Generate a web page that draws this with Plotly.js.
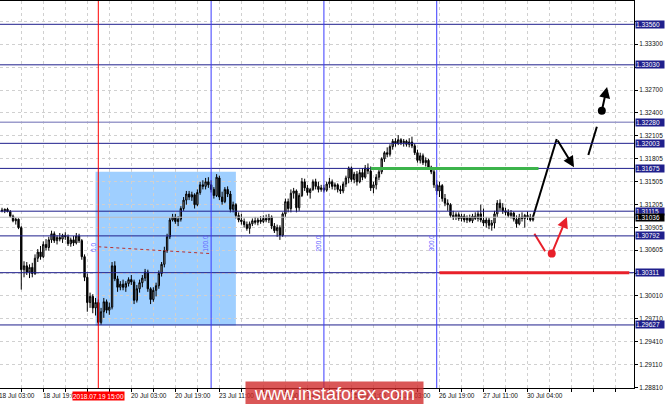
<!DOCTYPE html>
<html><head><meta charset="utf-8">
<script src="https://cdn.plot.ly/plotly-3.0.1.min.js"></script>
<style>html,body{margin:0;padding:0;background:#fff;}#chart{width:665px;height:404px;}</style>
</head><body><div id="chart"></div>
<script>
// ---- candle data (bar 1 .. 194, H1, 18 Jul 04:00 .. 30 Jul 05:00) ----
const openP = [1.3113,1.3112,1.3114,1.3111,1.3105,1.3099,1.3101,1.3090,1.3035,1.3040,1.3032,1.3038,1.3030,1.3050,1.3058,1.3052,1.3068,1.3064,1.3074,1.3082,
1.3073,1.3077,1.3075,1.3080,1.3078,1.3069,1.3074,1.3070,1.3079,1.3073,1.3052,1.3025,1.2992,1.3000,1.2985,1.2992,1.2966,1.2980,1.2993,1.2982,
1.2986,1.3040,1.3023,1.3012,1.3016,1.3012,1.3017,1.3022,1.3019,1.2995,1.3010,1.3018,1.3024,1.3032,1.3010,1.2996,1.3008,1.3014,1.3030,1.3042,
1.3060,1.3078,1.3100,1.3104,1.3098,1.3101,1.3115,1.3126,1.3134,1.3130,1.3133,1.3120,1.3136,1.3146,1.3144,1.3150,1.3146,1.3140,1.3132,1.3155,
1.3130,1.3124,1.3140,1.3134,1.3114,1.3120,1.3106,1.3100,1.3098,1.3094,1.3089,1.3095,1.3099,1.3097,1.3100,1.3098,1.3102,1.3100,1.3104,1.3092,
1.3086,1.3090,1.3080,1.3108,1.3124,1.3115,1.3135,1.3138,1.3116,1.3132,1.3150,1.3142,1.3136,1.3140,1.3150,1.3144,1.3140,1.3142,1.3139,1.3147,
1.3150,1.3144,1.3146,1.3140,1.3138,1.3147,1.3155,1.3168,1.3153,1.3160,1.3150,1.3162,1.3156,1.3168,1.3164,1.3142,1.3146,1.3156,1.3163,1.3180,
1.3188,1.3186,1.3196,1.3203,1.3200,1.3205,1.3201,1.3203,1.3199,1.3202,1.3197,1.3188,1.3178,1.3184,1.3175,1.3178,1.3169,1.3163,1.3146,1.3138,
1.3145,1.3128,1.3122,1.3120,1.3106,1.3104,1.3107,1.3102,1.3105,1.3100,1.3103,1.3099,1.3105,1.3102,1.3108,1.3100,1.3096,1.3100,1.3093,1.3096,
1.3108,1.3122,1.3116,1.3112,1.3110,1.3106,1.3109,1.3101,1.3095,1.3104,1.3102,1.3106,1.3104,1.3100];
const highP = [1.3116,1.3115,1.3116,1.3113,1.3107,1.3103,1.3102,1.3092,1.3046,1.3045,1.3042,1.3044,1.3055,1.3062,1.3066,1.3072,1.3075,1.3078,1.3086,1.3085,
1.3080,1.3083,1.3082,1.3084,1.3081,1.3077,1.3079,1.3083,1.3082,1.3075,1.3055,1.3030,1.3005,1.3003,1.2998,1.2996,1.2985,1.2998,1.2996,1.2992,
1.3045,1.3046,1.3027,1.3020,1.3022,1.3020,1.3025,1.3028,1.3022,1.3015,1.3022,1.3028,1.3036,1.3035,1.3012,1.3012,1.3018,1.3034,1.3045,1.3065,
1.3082,1.3103,1.3108,1.3108,1.3105,1.3118,1.3130,1.3138,1.3138,1.3137,1.3135,1.3140,1.3150,1.3152,1.3155,1.3156,1.3152,1.3143,1.3160,1.3158,
1.3137,1.3143,1.3144,1.3138,1.3124,1.3122,1.3110,1.3108,1.3102,1.3098,1.3098,1.3102,1.3104,1.3103,1.3105,1.3106,1.3107,1.3108,1.3106,1.3096,
1.3094,1.3093,1.3110,1.3128,1.3128,1.3140,1.3142,1.3140,1.3135,1.3155,1.3154,1.3146,1.3142,1.3153,1.3154,1.3150,1.3146,1.3146,1.3150,1.3155,
1.3153,1.3149,1.3148,1.3145,1.3150,1.3158,1.3170,1.3170,1.3163,1.3164,1.3166,1.3168,1.3172,1.3174,1.3170,1.3150,1.3160,1.3166,1.3182,1.3190,
1.3195,1.3199,1.3206,1.3207,1.3211,1.3207,1.3206,1.3205,1.3207,1.3209,1.3200,1.3192,1.3188,1.3187,1.3182,1.3180,1.3171,1.3166,1.3152,1.3150,
1.3147,1.3134,1.3127,1.3122,1.3112,1.3110,1.3110,1.3108,1.3108,1.3106,1.3107,1.3108,1.3110,1.3112,1.3120,1.3115,1.3104,1.3103,1.3100,1.3112,
1.3126,1.3127,1.3122,1.3116,1.3114,1.3113,1.3111,1.3106,1.3108,1.3110,1.3108,1.3111,1.3108,1.3106];
const lowP = [1.3110,1.3109,1.3110,1.3103,1.3097,1.3094,1.3088,1.3009,1.3025,1.3028,1.3024,1.3025,1.3028,1.3045,1.3048,1.3050,1.3060,1.3060,1.3070,1.3070,
1.3068,1.3072,1.3070,1.3074,1.3066,1.3065,1.3066,1.3068,1.3070,1.3048,1.3020,1.2980,1.2985,1.2978,1.2975,1.2962,1.2963,1.2972,1.2978,1.2976,
1.2983,1.3020,1.3006,1.3008,1.3008,1.3006,1.3013,1.3015,1.2990,1.2992,1.3005,1.3012,1.3020,1.3006,1.2990,1.2993,1.3000,1.3010,1.3026,1.3038,
1.3057,1.3075,1.3098,1.3095,1.3092,1.3098,1.3112,1.3120,1.3126,1.3125,1.3115,1.3118,1.3133,1.3140,1.3140,1.3142,1.3136,1.3128,1.3130,1.3126,
1.3120,1.3122,1.3130,1.3110,1.3110,1.3102,1.3097,1.3094,1.3090,1.3086,1.3082,1.3092,1.3094,1.3093,1.3095,1.3096,1.3097,1.3096,1.3088,1.3083,
1.3078,1.3074,1.3078,1.3104,1.3110,1.3110,1.3128,1.3110,1.3112,1.3130,1.3138,1.3132,1.3128,1.3138,1.3140,1.3136,1.3137,1.3136,1.3137,1.3142,
1.3140,1.3139,1.3136,1.3134,1.3135,1.3143,1.3148,1.3150,1.3148,1.3145,1.3148,1.3152,1.3154,1.3160,1.3138,1.3135,1.3140,1.3152,1.3160,1.3176,
1.3182,1.3183,1.3192,1.3196,1.3198,1.3198,1.3196,1.3196,1.3195,1.3194,1.3185,1.3175,1.3174,1.3172,1.3170,1.3166,1.3160,1.3142,1.3133,1.3130,
1.3124,1.3118,1.3112,1.3103,1.3100,1.3100,1.3099,1.3098,1.3097,1.3096,1.3097,1.3096,1.3100,1.3098,1.3097,1.3092,1.3090,1.3088,1.3086,1.3089,
1.3104,1.3112,1.3108,1.3106,1.3103,1.3102,1.3098,1.3090,1.3093,1.3098,1.3090,1.3100,1.3098,1.3098];
const closeP = [1.3112,1.3114,1.3111,1.3105,1.3099,1.3101,1.3090,1.3035,1.3040,1.3032,1.3038,1.3030,1.3050,1.3058,1.3052,1.3068,1.3064,1.3074,1.3082,1.3073,
1.3077,1.3075,1.3080,1.3078,1.3069,1.3074,1.3070,1.3079,1.3073,1.3052,1.3025,1.2992,1.3000,1.2985,1.2992,1.2966,1.2980,1.2993,1.2982,1.2986,
1.3040,1.3023,1.3012,1.3016,1.3012,1.3017,1.3022,1.3019,1.2995,1.3010,1.3018,1.3024,1.3032,1.3010,1.2996,1.3008,1.3014,1.3030,1.3042,1.3060,
1.3078,1.3100,1.3104,1.3098,1.3101,1.3115,1.3126,1.3134,1.3130,1.3133,1.3120,1.3136,1.3146,1.3144,1.3150,1.3146,1.3140,1.3132,1.3156,1.3130,
1.3124,1.3140,1.3134,1.3114,1.3120,1.3106,1.3100,1.3098,1.3094,1.3089,1.3095,1.3099,1.3097,1.3100,1.3098,1.3102,1.3100,1.3104,1.3092,1.3086,
1.3090,1.3080,1.3108,1.3124,1.3115,1.3135,1.3138,1.3116,1.3132,1.3150,1.3142,1.3136,1.3140,1.3150,1.3144,1.3140,1.3142,1.3139,1.3147,1.3150,
1.3144,1.3146,1.3140,1.3138,1.3147,1.3155,1.3168,1.3153,1.3160,1.3150,1.3162,1.3156,1.3168,1.3164,1.3142,1.3146,1.3156,1.3163,1.3180,1.3188,
1.3186,1.3196,1.3203,1.3200,1.3205,1.3201,1.3203,1.3199,1.3202,1.3197,1.3188,1.3178,1.3184,1.3175,1.3178,1.3169,1.3163,1.3146,1.3138,1.3145,
1.3128,1.3122,1.3120,1.3106,1.3104,1.3107,1.3102,1.3105,1.3100,1.3103,1.3099,1.3105,1.3102,1.3108,1.3100,1.3096,1.3100,1.3093,1.3096,1.3108,
1.3122,1.3116,1.3112,1.3110,1.3106,1.3109,1.3101,1.3095,1.3104,1.3102,1.3106,1.3104,1.3100,1.3104];

// ---- axis ticks ----
const priceTicks = [1.28810,1.29110,1.29410,1.29710,1.30010,1.30305,1.30605,1.30905,1.31205,1.31505,1.31805,1.32105,1.32400,1.32700,1.33000,1.33300,1.33600];
const priceTickText = ['1.28810','1.29110','1.29410','1.29710','1.30010','','1.30605','1.30905','1.31205','1.31505','1.31805','1.32105','1.32400','1.32700','','1.33300',''];
const timeLabelBars = [0,16,32,48,64,80,96,112,128,144,160,176,192];
const timeLabels = ['18 Jul 03:00','18 Jul 19:00','19 Jul 11:00','20 Jul 03:00','20 Jul 19:00','23 Jul 11:00','24 Jul 03:00','24 Jul 19:00','25 Jul 11:00','26 Jul 03:00','26 Jul 19:00','27 Jul 11:00','30 Jul 04:00'];
const gridStepBars = 8, lastGridBar = 224;

// ---- drawn objects ----
const navyLevels = [1.33560,1.33030,1.32003,1.31675,1.31115,1.30792,1.30311,1.29627];
const lightLevel = 1.32280;
const bidPrice = 1.31036;
const labelLevels = [1.33560,1.33030,1.32280,1.32003,1.31675,1.31115,1.30792,1.30311,1.29627];
const markedBar = 36, markedLabel = '2018.07.19 15:00';
const fiboBars = [36,77,118,159];
const fiboLabels = ['0.0','100.0','200.0','300.0'];
const rectBars = [35,86], rectPrices = [1.2962,1.3163];
const trendBars = [36,77], trendPrices = [1.3065,1.3056];
const greenBars = [135,196], greenPrice = 1.31675;
const redBars = [160,229], redPrice = 1.30311;
const blackPathBars = [194,202.6], blackPathPrices = [1.3104,1.3206];
const blackArrow1 = {from:[202.6,1.3206], to:[208.9,1.3169]};
const blackSegBars = [214.1,217.2], blackSegPrices = [1.3185,1.3222];
const blackDot = [219,1.3243];
const blackArrow2 = {from:[219,1.3243], to:[220.9,1.3274]};
const redPathBars = [194.5,198.4], redPathPrices = [1.3082,1.3059];
const redDot = [200.8,1.3056];
const redArrow = {from:[200.8,1.3056], to:[206.3,1.3104]};
const watermark = 'www.instaforex.com';

// ---- build ----
const xRange = [0.27, 230.7];
const plotWidthPx = 634;
const pxPerBar = plotWidthPx / (xRange[1] - xRange[0]);
const bars = openP.map((_, i) => i + 1);
const gridBars = [];
for (let b = 0; b <= lastGridBar; b += gridStepBars) gridBars.push(b);

const NAVY = '#1f1f8c';
const FONT = 'Liberation Sans, Arial, sans-serif';

const traces = [
  {type:'candlestick', x:bars, open:openP, high:highP, low:lowP, close:closeP,
   increasing:{line:{color:'#000',width:1}, fillcolor:'#a9a9a9'},
   decreasing:{line:{color:'#000',width:1}, fillcolor:'#000'},
   whiskerwidth:0, hoverinfo:'skip', showlegend:false},
  {type:'scatter', mode:'lines', x:blackPathBars, y:blackPathPrices, line:{color:'#000',width:2}, hoverinfo:'skip'},
  {type:'scatter', mode:'lines', x:blackSegBars, y:blackSegPrices, line:{color:'#000',width:2}, hoverinfo:'skip'},
  {type:'scatter', mode:'lines', x:redPathBars, y:redPathPrices, line:{color:'#e8202a',width:2}, hoverinfo:'skip'},
  {type:'scatter', mode:'markers', x:[blackDot[0]], y:[blackDot[1]], marker:{color:'#000',size:8}, hoverinfo:'skip'},
  {type:'scatter', mode:'markers', x:[redDot[0]], y:[redDot[1]], marker:{color:'#e8202a',size:8}, hoverinfo:'skip'}
];

const shapes = [];
shapes.push({type:'rect', layer:'below', xref:'x', yref:'y', x0:rectBars[0], x1:rectBars[1], y0:rectPrices[0], y1:rectPrices[1], fillcolor:'#9fcfff', line:{width:0}});
shapes.push({type:'line', xref:'paper', yref:'y', x0:0, x1:1, y0:bidPrice, y1:bidPrice, line:{color:'#bdbdbd', width:1}});
navyLevels.forEach(v => shapes.push({type:'line', xref:'paper', yref:'y', x0:0, x1:1, y0:v, y1:v, line:{color:NAVY, width:1}}));
shapes.push({type:'line', xref:'paper', yref:'y', x0:0, x1:1, y0:lightLevel, y1:lightLevel, line:{color:'#9c9ccc', width:1.5}});
fiboBars.forEach((b, i) => shapes.push({type:'line', xref:'x', yref:'paper', x0:b, x1:b, y0:0, y1:1, line:{color: i === 0 ? '#ff0000' : '#3a3aff', width:1}}));
shapes.push({type:'line', xref:'x', yref:'y', x0:trendBars[0], x1:trendBars[1], y0:trendPrices[0], y1:trendPrices[1], line:{color:'#b83030', width:1, dash:'dot'}});
shapes.push({type:'line', xref:'x', yref:'y', x0:greenBars[0], x1:greenBars[1], y0:greenPrice, y1:greenPrice, line:{color:'#3cb44b', width:3}});
shapes.push({type:'line', xref:'x', yref:'y', x0:redBars[0], x1:redBars[1], y0:redPrice, y1:redPrice, line:{color:'#e8202a', width:3}});

const axisFont = {family:FONT, size:6.5, color:'#111'};
const annotations = [];
// time labels start just right of their grid line (a label whose grid line is left of the view is shifted so it is clipped like MT4)
timeLabelBars.forEach((b, i) => {
  const ax = Math.max(b, xRange[0]);
  annotations.push({xref:'x', yref:'paper', x:ax, xanchor:'left', xshift:0.5 - (ax - b) * pxPerBar - 2, y:0, yanchor:'top', yshift:-3,
    text:timeLabels[i], showarrow:false, font:axisFont, borderpad:0});
});
labelLevels.forEach(v => annotations.push({xref:'paper', yref:'y', x:1, xanchor:'left', xshift:1, y:v, yanchor:'middle',
  text:v.toFixed(5), showarrow:false, bgcolor:NAVY, font:{family:FONT, size:6.5, color:'#fff'}, width:28, height:7, borderpad:0, align:'left'}));
annotations.push({xref:'paper', yref:'y', x:1, xanchor:'left', xshift:1, y:bidPrice, yanchor:'middle',
  text:bidPrice.toFixed(5), showarrow:false, bgcolor:'#000', font:{family:FONT, size:6.5, color:'#fff'}, width:28, height:7, borderpad:0, align:'left'});
fiboLabels.forEach((t, i) => annotations.push({xref:'x', yref:'y', x:fiboBars[i], xshift:-5.5, y:trendPrices[1], yanchor:'bottom', xanchor:'center',
  text:t, textangle:-90, showarrow:false, font:{family:FONT, size:6.5, color:'#6262ff'}}));
[blackArrow1, blackArrow2].forEach(a => annotations.push({xref:'x', yref:'y', axref:'x', ayref:'y', x:a.to[0], y:a.to[1], ax:a.from[0], ay:a.from[1],
  text:'', showarrow:true, arrowhead:2, arrowsize:1.1, arrowwidth:2, arrowcolor:'#000', standoff:0}));
annotations.push({xref:'x', yref:'y', axref:'x', ayref:'y', x:redArrow.to[0], y:redArrow.to[1], ax:redArrow.from[0], ay:redArrow.from[1],
  text:'', showarrow:true, arrowhead:2, arrowsize:1.1, arrowwidth:2, arrowcolor:'#e8202a', standoff:0});
annotations.push({xref:'x', yref:'paper', x:markedBar, xanchor:'center', y:0, yanchor:'top', yshift:-3,
  text:markedLabel, showarrow:false, bgcolor:'#ff0000', font:{family:FONT, size:6.5, color:'#fff'}, width:51, height:8, borderpad:0});
annotations.push({xref:'paper', yref:'paper', x:245/634, xanchor:'left', y:0, yanchor:'top', yshift:7,
  text:watermark, showarrow:false, bgcolor:'rgba(208,40,40,0.78)', font:{family:FONT, size:18, color:'#fff'}, width:177, height:23, borderpad:0});

const layout = {
  width:665, height:404, margin:{l:0, r:31, t:1, b:16, pad:0},
  paper_bgcolor:'#fff', plot_bgcolor:'#fff', showlegend:false, dragmode:false,
  xaxis:{range:xRange, tickmode:'array', tickvals:gridBars, showticklabels:false, ticks:'outside', ticklen:3, tickcolor:'#000',
    showgrid:true, gridcolor:'#d0d0d0', griddash:'3px,3px', gridwidth:1,
    showline:true, linecolor:'#000', linewidth:1, mirror:true, zeroline:false, rangeslider:{visible:false}, fixedrange:true},
  yaxis:{range:[1.28802,1.33865], side:'right', tickmode:'array', tickvals:priceTicks, ticktext:priceTickText, ticks:'outside', ticklen:3, tickcolor:'#000',
    tickfont:axisFont, showgrid:true, gridcolor:'#d0d0d0', griddash:'3px,3px', gridwidth:1,
    showline:true, linecolor:'#000', linewidth:1, mirror:true, zeroline:false, fixedrange:true},
  shapes:shapes, annotations:annotations
};
Plotly.newPlot('chart', traces, layout, {displayModeBar:false, staticPlot:true});
</script></body></html>
